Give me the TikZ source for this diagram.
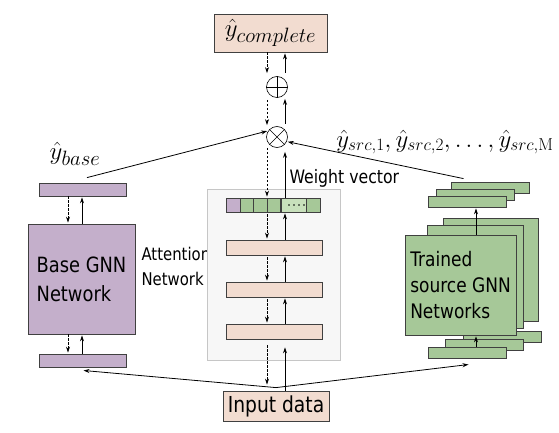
\documentclass[tikz,border=0pt]{standalone}
\usepackage[no-math]{fontspec}
\setmainfont{DejaVu Sans}[FakeStretch=0.85]
\usepackage{amsmath}
\usetikzlibrary{arrows.meta}

\DeclareMathSizes{24}{24}{18}{14}
\DeclareMathSizes{26}{26}{20}{15}
\newcommand{\mathlbl}{\fontsize{26}{30}\selectfont}
\newcommand{\srclbl}{\fontsize{24}{28}\selectfont}

\definecolor{gnnpurple}{RGB}{196,175,203}
\definecolor{srcgreen}{RGB}{166,200,152}
\definecolor{dotgreen}{RGB}{200,224,188}
\definecolor{attpeach}{RGB}{242,220,208}
\definecolor{edgegray}{RGB}{64,64,64}

\tikzset{
    bar/.style={draw=edgegray, line width=0.8pt, inner sep=0pt},
    gnnbar/.style={bar, fill=gnnpurple, minimum width=87pt, minimum height=13pt},
    attbar/.style={bar, fill=attpeach, minimum width=96pt, minimum height=15pt},
    srcbar/.style={bar, fill=srcgreen, minimum width=78pt, minimum height=11pt},
    srcbox/.style={bar, fill=srcgreen},
    cell/.style={bar, minimum height=14pt},
    opcircle/.style={circle, draw, fill=white, line width=0.6pt, minimum size=21pt, inner sep=0pt},
    flowarrow/.style={line width=0.8pt, -{Stealth[length=6pt,width=4pt]}, shorten >=1pt},
    gradarrow/.style={flowarrow, dash pattern=on 2.5pt off 1.5pt}
}

\begin{document}
\begin{tikzpicture}[x=1pt, y=-1pt]
        \useasboundingbox (0,0) rectangle (559,433);

        % Lanes for the two directions
        \coordinate (dn) at (267,0);
        \coordinate (up) at (285,0);
        \coordinate (bdn) at (68,0);
        \coordinate (bup) at (82,0);
        \coordinate (sup) at (476,0);

        % Output and combination
        \node[bar, fill=attpeach, minimum width=113pt, minimum height=38pt] (complete) at (270.5,33) {\mathlbl $\hat{y}_{complete}$};
        \node[opcircle] (oplus) at (277,87) {};
        \node[opcircle] (otimes) at (277,137) {};
        \draw[line width=0.6pt] (oplus.north) -- (oplus.south) (oplus.west) -- (oplus.east);
        \draw[line width=0.6pt] (otimes.north west) -- (otimes.south east) (otimes.north east) -- (otimes.south west);

        % Attention network
        \node[anchor=west, align=left, font=\fontsize{17.5}{25}\selectfont] (attlabel) at (138,266) {Attention\\Network};
        \draw[draw=gray!45, fill=gray!6] (207,189) rectangle (340,360);

        \node[cell, fill=gnnpurple, minimum width=14pt] (w0) at (233,205) {};
        \foreach \i/\x in {1/247, 2/260.5, 3/274}
            \node[cell, fill=srcgreen, minimum width=13.5pt] (w\i) at (\x,205) {};
        \node[cell, fill=dotgreen, minimum width=25pt] (w4) at (293.5,205) {};
        \node[cell, fill=srcgreen, minimum width=14pt] (w5) at (313,205) {};
        \foreach \x in {289, 294, 299, 304}
            \fill (\x,205) circle (0.9pt);
        \node[anchor=base west, font=\fontsize{18.5}{22}\selectfont] (wvlabel) at (286,183) {Weight vector};

        \node[attbar] (att1) at (274,247.5) {};
        \node[attbar] (att2) at (274,289.5) {};
        \node[attbar] (att3) at (274,331.5) {};

        \node[bar, fill=attpeach, minimum width=106pt, minimum height=30pt, font=\fontsize{22}{26}\selectfont] (input) at (276,406) {Input data};

        % Base GNN
        \node (ybase) at (75,154) {\mathlbl $\hat{y}_{base}$};
        \node[gnnbar] (baseout) at (82.5,189.5) {};
        \node[bar, fill=gnnpurple, minimum width=107pt, minimum height=110pt, align=left, font=\fontsize{21}{29}\selectfont] (base) at (81.5,279) {Base GNN\\Network};
        \node[gnnbar] (basein) at (82.5,360.5) {};

        % Trained source GNNs, back to front
        \node (ysrc) at (445,142) {\srclbl $\hat{y}_{src,1}, \hat{y}_{src,2}, \ldots, \hat{y}_{src,\mathrm{M}}$};
        \node[srcbar] (srcout3) at (490.5,187.5) {};
        \node[srcbar] (srcout2) at (475.5,194.5) {};
        \node[srcbar] (srcout1) at (467.5,201.5) {};
        \node[srcbar] (srcin3) at (502.5,336.5) {};
        \node[srcbar] (srcin2) at (484,345) {};
        \node[srcbar] (srcin1) at (467.5,352.5) {};
        \node[srcbox, minimum width=95pt, minimum height=103pt] (src3) at (490.5,269.5) {};
        \node[srcbox, minimum width=96pt, minimum height=103pt] (src2) at (475,276.5) {};
        \node[srcbox, minimum width=111pt, minimum height=100pt, align=left, font=\fontsize{20}{26}\selectfont] (src1) at (460.5,285) {Trained\\source GNN\\Networks};

        % Arrows in the middle column
        \draw[gradarrow, shorten >=3pt] (complete.south -| dn) -- (oplus.north -| dn);
        \draw[flowarrow, shorten <=3.5pt] (oplus.north -| up) -- (complete.south -| up);
        \draw[gradarrow, shorten <=2pt] (oplus.south -| dn) -- (otimes.north -| dn);
        \draw[flowarrow, shorten <=2.5pt] (otimes.north -| up) -- (oplus.south -| up);
        \draw[gradarrow] (otimes.south -| dn) -- (w0.north -| dn);
        \draw[flowarrow, shorten >=4pt] (w0.north -| up) -- (otimes.south -| up);
        \foreach \a/\b in {w0/att1, att1/att2, att2/att3} {
            \draw[gradarrow, shorten <=2pt] (\a.south -| dn) -- (\b.north -| dn);
            \draw[flowarrow] (\b.north -| up) -- (\a.south -| up);
        }
        \draw[gradarrow, shorten <=6pt, shorten >=6pt] (att3.south -| dn) -- (input.north -| dn);
        \draw[flowarrow, shorten >=8pt] (input.north -| up) -- (att3.south -| up);

        % Arrows at the base GNN
        \draw[gradarrow] (baseout.south -| bdn) -- (base.north -| bdn);
        \draw[flowarrow] (base.north -| bup) -- (baseout.south -| bup);
        \draw[gradarrow] (base.south -| bdn) -- (basein.north -| bdn);
        \draw[flowarrow] (basein.north -| bup) -- (base.south -| bup);

        % Arrows at the source GNNs
        \draw[flowarrow] (srcin1.north -| sup) -- (src1.south -| sup);
        \draw[flowarrow] (src1.north -| sup) -- (srcout1.south -| sup);

        % Predictions into the product, input out to the networks
        \draw[flowarrow] ([xshift=4.5pt,yshift=5pt]baseout.north) -- (otimes.145);
        \draw[flowarrow] ([xshift=-27pt,yshift=3pt]srcout3.north) -- (otimes.-25);
        \draw[flowarrow] ([yshift=3pt]input.north) -- ([yshift=-3pt]basein.south);
        \draw[flowarrow] ([yshift=3pt]input.north) -- ([xshift=2pt,yshift=-6pt]srcin1.south);
    \end{tikzpicture}
\end{document}
